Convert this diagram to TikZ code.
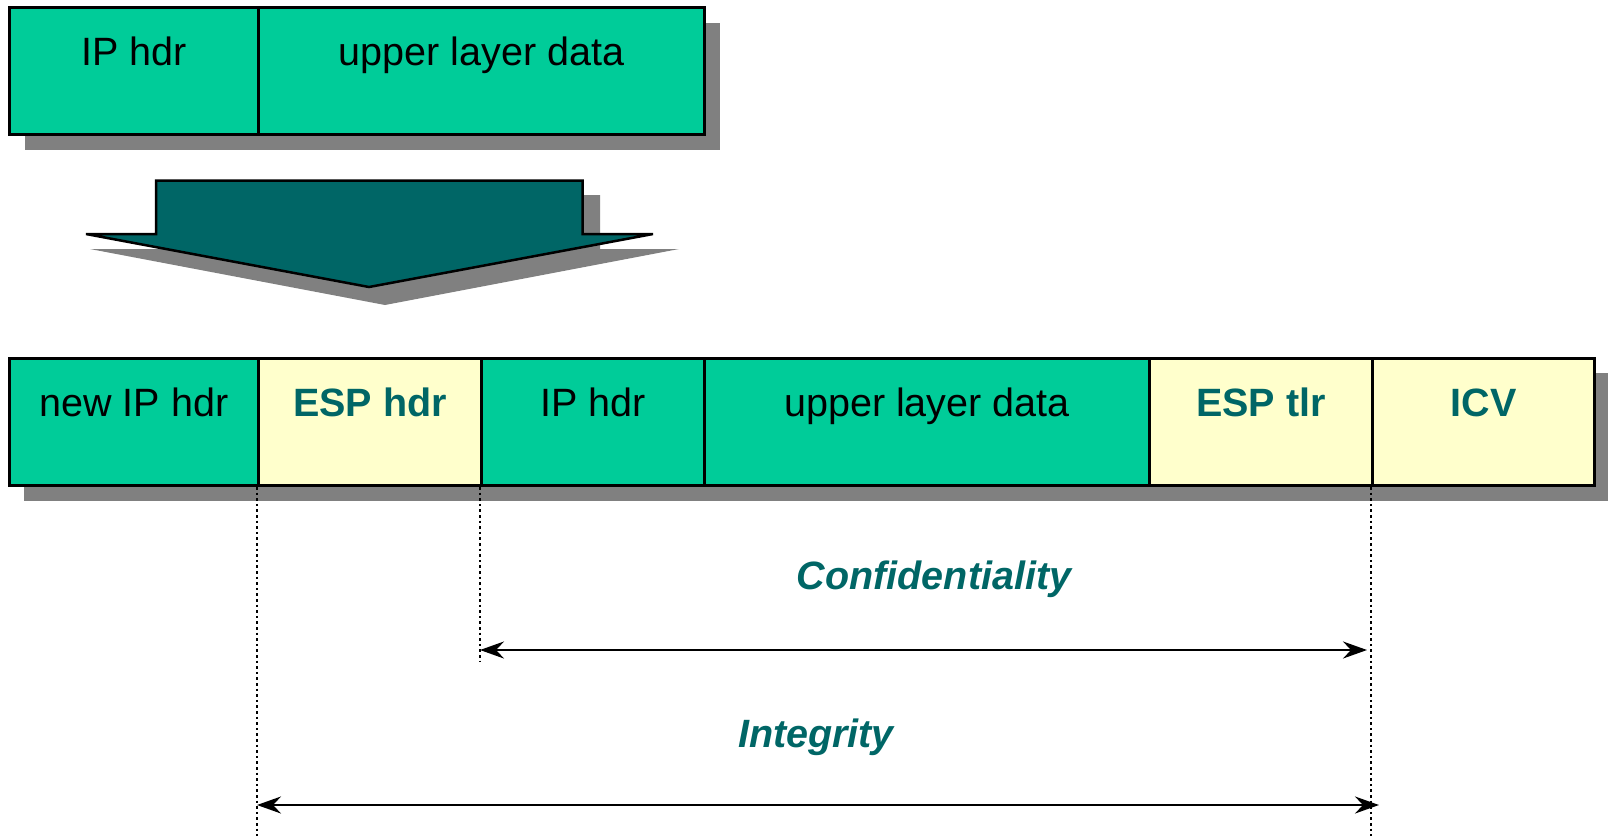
\documentclass[tikz,border=0pt]{standalone}
\usepackage{fontspec}
\setmainfont{Liberation Sans}
\usetikzlibrary{arrows.meta,calc}
\definecolor{pktgreen}{RGB}{0,204,153}
\definecolor{pktyellow}{RGB}{255,255,204}
\definecolor{espteal}{RGB}{0,102,102}
\definecolor{shadowgray}{RGB}{128,128,128}
\tikzset{
  field/.style={draw=black, line width=3pt, anchor=north west, inner sep=0pt,
    minimum height=127pt, text height=58pt, text depth=69pt,
    font=\fontsize{39.5}{47}\selectfont},
  grn/.style={field, fill=pktgreen},
  ylw/.style={field, fill=pktyellow, text=espteal, font=\fontsize{39.5}{47}\selectfont\bfseries},
  shade/.style={fill=shadowgray, draw=none},
  guide/.style={line width=2.6pt, dash pattern=on 2.6pt off 3pt},
  span/.style={line width=2.5pt, {Stealth[length=24pt,width=17pt,inset=8pt]}-{Stealth[length=24pt,width=17pt,inset=8pt]}},
  lbl/.style={text=espteal, anchor=base, font=\fontsize{39.5}{47}\selectfont\bfseries\itshape}
}
\begin{document}
\begin{tikzpicture}[x=1pt,y=-1pt]
\useasboundingbox (0,0) rectangle (1608,836);
% shadows
\fill[shade] (25,23) rectangle (720,150);
\fill[shade] (24,373) rectangle (1609,501);
\fill[shade] (172,195) -- (600,195) -- (600,249) -- (679,249) -- (385,305) -- (90,249) -- (172,249) -- cycle;
% top packet
\node[grn, minimum width=249pt] (tip) at (8,6) {IP hdr};
\node[grn, minimum width=446pt] (tdata) at (257,6) {upper layer data};
% big arrow
\draw[fill=espteal, line width=2.5pt, line join=miter]
  (156,180.5) -- (582.5,180.5) -- (582.5,234) -- (653,234) -- (369,287) -- (86,234) -- (156,234) -- cycle;
% bottom packet
\node[grn, minimum width=249pt] (newip) at (8,357) {new IP hdr};
\node[ylw, minimum width=223pt] (esph) at (257,357) {ESP hdr};
\node[grn, minimum width=223pt] (bip) at (480,357) {IP hdr};
\node[grn, minimum width=445pt] (bdata) at (703,357) {upper layer data};
\node[ylw, minimum width=223pt] (espt) at (1148,357) {ESP tlr};
\node[ylw, minimum width=222pt] (icv) at (1371,357) {ICV};
% guide lines
\coordinate (g1b) at (esph.south west |- 0,836);
\coordinate (g2b) at (bip.south west |- 0,661);
\coordinate (g3b) at (icv.south west |- 0,836);
\draw[guide] (esph.south west) -- (g1b);
\draw[guide] (bip.south west) -- (g2b);
\draw[guide] (icv.south west) -- (g3b);
% spans
\coordinate (cl) at (bip.south west |- 0,650);
\coordinate (cr) at ($(icv.south west |- 0,650)+(-4,0)$);
\coordinate (il) at (esph.south west |- 0,805);
\coordinate (ir) at ($(icv.south west |- 0,805)+(8,0)$);
\draw[span] (cl) -- (cr);
\draw[span] (il) -- (ir);
\node[lbl] (conf) at (934,589) {Confidentiality};
\node[lbl] (integ) at (816,747) {Integrity};
\end{tikzpicture}
\end{document}
